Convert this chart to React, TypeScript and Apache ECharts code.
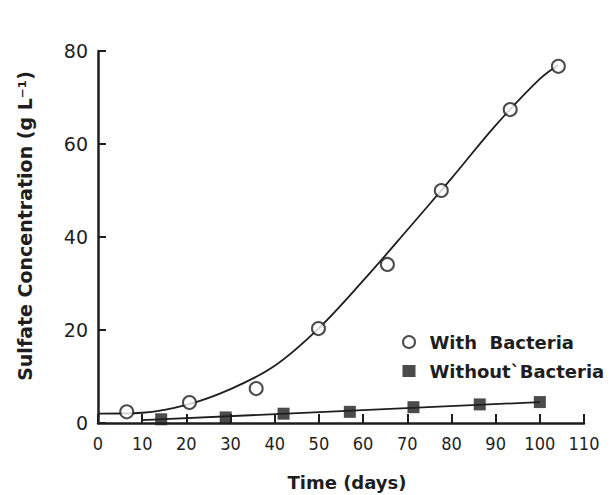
import React, { useEffect, useRef } from "react";
import * as echarts from "echarts";

// Measured points
const withBacteriaX = [6.5, 20.7, 35.8, 49.9, 65.5, 77.7, 93.3, 104.2];
const withBacteriaY = [2.4, 4.4, 7.4, 20.3, 34.1, 50.0, 67.4, 76.7];
const withoutBacteriaX = [14.3, 28.9, 42.0, 57.0, 71.4, 86.4, 100.0];
const withoutBacteriaY = [0.8, 1.2, 2.0, 2.4, 3.4, 4.0, 4.5];

// Fitted curves
const withFitX = [0, 10, 20, 30, 40, 50, 60, 70, 80, 90, 100, 104.2];
const withFitY = [2.0, 2.2, 3.9, 7.3, 12.3, 20.4, 30.6, 41.5, 52.6, 64.0, 74.0, 77.0];
const withoutFitX = [10, 100];
const withoutFitY = [0.6, 4.5];

const xTicks = [0, 10, 20, 30, 40, 50, 60, 70, 80, 90, 100, 110];
const yTicks = [0, 20, 40, 60, 80];

const INK = "#1e1e1e";

const zip = (xs: number[], ys: number[]) => xs.map((x, i) => [x, ys[i]]);

export default function App() {
  const ref = useRef<HTMLDivElement>(null);
  useEffect(() => {
    if (!ref.current) return;
    const chart = echarts.init(ref.current, null, { renderer: "svg" });
    chart.setOption({
      animation: false,
      backgroundColor: "#fff",
      grid: { left: 98, right: 30, top: 51, bottom: 72 },
      xAxis: {
        type: "value",
        min: xTicks[0],
        max: xTicks[xTicks.length - 1],
        interval: 10,
        splitLine: { show: false },
        axisLine: { lineStyle: { color: INK, width: 2.5 } },
        axisTick: { inside: true, length: 9, lineStyle: { color: INK, width: 2 } },
        axisLabel: {
          color: INK,
          fontSize: 18,
          fontFamily: "DejaVu Sans Condensed, DejaVu Sans, sans-serif",
          margin: 11,
        },
      },
      yAxis: {
        type: "value",
        min: yTicks[0],
        max: yTicks[yTicks.length - 1],
        interval: 20,
        splitLine: { show: false },
        axisLine: { lineStyle: { color: INK, width: 2.5 } },
        axisTick: { inside: true, length: 8, lineStyle: { color: INK, width: 2 } },
        axisLabel: {
          color: INK,
          fontSize: 19,
          fontFamily: "DejaVu Sans, sans-serif",
          margin: 10,
        },
      },
      legend: {
        orient: "vertical",
        left: 397,
        top: 328,
        itemGap: 11,
        itemWidth: 13,
        itemHeight: 12,
        textStyle: {
          color: INK,
          fontSize: 18,
          fontWeight: "bold",
          fontFamily: "DejaVu Sans, sans-serif",
          padding: [0, 0, 0, 9],
        },
        data: [
          { name: "With  Bacteria", icon: "circle" },
          { name: "Without`Bacteria", icon: "rect" },
        ],
      },
      graphic: [
        {
          type: "text",
          x: 25,
          y: 226,
          rotation: Math.PI / 2,
          style: {
            text: "Sulfate Concentration (g L⁻¹)",
            fill: INK,
            fontSize: 19,
            fontWeight: "bold",
            fontFamily: "DejaVu Sans, sans-serif",
            align: "center",
            verticalAlign: "middle",
          },
        },
        {
          type: "text",
          x: 347,
          y: 482,
          style: {
            text: "Time (days)",
            fill: INK,
            fontSize: 18,
            fontWeight: "bold",
            fontFamily: "DejaVu Sans, sans-serif",
            align: "center",
            verticalAlign: "middle",
          },
        },
      ],
      series: [
        {
          name: "withFit",
          type: "line",
          smooth: 0.35,
          showSymbol: false,
          silent: true,
          z: 2,
          lineStyle: { color: INK, width: 1.8 },
          data: zip(withFitX, withFitY),
        },
        {
          name: "withoutFit",
          type: "line",
          showSymbol: false,
          silent: true,
          z: 2,
          lineStyle: { color: INK, width: 1.8 },
          data: zip(withoutFitX, withoutFitY),
        },
        {
          name: "With  Bacteria",
          type: "scatter",
          symbol: "circle",
          symbolSize: 13,
          z: 4,
          itemStyle: { color: "#fff", borderColor: INK, borderWidth: 2 },
          data: zip(withBacteriaX, withBacteriaY),
        },
        {
          name: "Without`Bacteria",
          type: "scatter",
          symbol: "rect",
          symbolSize: 12,
          z: 4,
          itemStyle: { color: INK },
          data: zip(withoutBacteriaX, withoutBacteriaY),
        },
      ],
    });
    return () => chart.dispose();
  }, []);
  return <div ref={ref} style={{ width: 614, height: 495, position: "absolute", left: 0, top: 0 }} />;
}
